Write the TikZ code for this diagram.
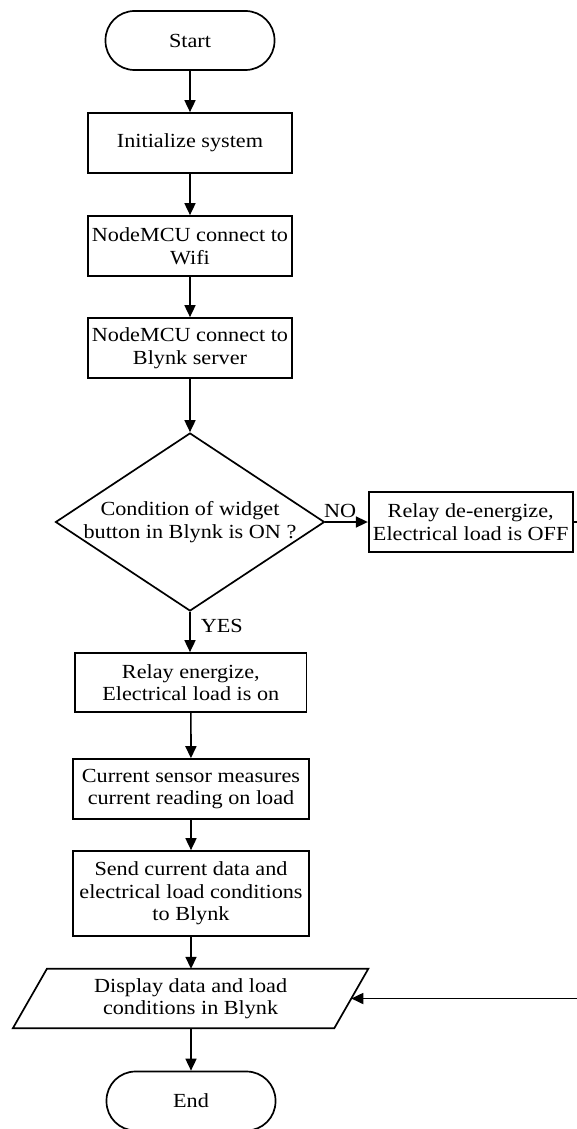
\documentclass[tikz,border=0pt]{standalone}
\usepackage{fontspec}
\setmainfont{Liberation Serif}[FakeStretch=1.11]
\usetikzlibrary{shapes.geometric,arrows.meta}
\begin{document}
\begin{tikzpicture}[x=1pt,y=-1pt,
  every node/.style={font=\fontsize{20}{22.5}\selectfont, align=center, inner sep=0pt},
  term/.style={draw, line width=1.7pt, rounded corners=29pt, minimum width=169pt, minimum height=59pt},
  proc/.style={draw, line width=1.7pt, minimum width=#1, minimum height=60pt},
  proc/.default=204pt,
  decision/.style={draw, line width=1.7pt, diamond, minimum width=269pt, minimum height=178pt},
  io/.style={minimum width=321pt, minimum height=59pt},
  arr/.style={line width=1.7pt, -{Triangle[length=12pt,width=11pt]}},
  lbl/.style={font=\fontsize{20}{22.5}\selectfont}]
\useasboundingbox (0,0) rectangle (577,1129);
\node[term] (start) at (190,40.5) {Start};
\node[proc] (init) at (190,143) {Initialize system};
\node[proc] (wifi) at (190,246) {NodeMCU connect to\\Wifi};
\node[proc] (server) at (190,348) {NodeMCU connect to\\Blynk server};
\node[decision] (dec) at (190,522) {};
\node (dectext) at (dec.center) {Condition of widget\\button in Blynk is ON ?};
\node[proc] (off) at (470.7,522) {Relay de-energize,\\Electrical load is OFF};
\node[proc=231.5pt, minimum height=59pt] (on) at (190.8,682.5) {Relay energize,\\Electrical load is on};
\node[proc=236pt] (sense) at (191,789) {Current sensor measures\\current reading on load};
\node[proc=236pt, minimum height=85pt] (send) at (191,893.5) {Send current data and\\electrical load conditions\\to Blynk};
\node[io] (disp) at (190.6,998.5) {Display data and load\\conditions in Blynk};
\draw[line width=1.7pt] ([xshift=-17pt]disp.south west) -- ([xshift=17pt]disp.north west)
  -- ([xshift=17pt]disp.north east) -- ([xshift=-17pt]disp.south east) -- cycle;
\node[term] (end) at (191,1101) {End};
\coordinate (cr) at (600,522);
\draw[arr] (start) -- (init);
\draw[arr] (init) -- (wifi);
\draw[arr] (wifi) -- (server);
\draw[arr] (server) -- (dec.north);
\draw[arr] (dec.east) -- node[lbl, above, pos=0.35, yshift=3pt] (no) {NO} (off.west);
\draw[arr] (dec.south) -- node[lbl, right, pos=0.35, xshift=10pt] (yes) {YES} (on.north -| dec.south);
\draw[arr] (on) -- (sense);
\draw[arr] (sense) -- (send);
\draw[arr] (send) -- (disp.north -| send.south);
\draw[arr] (off.east) -- (cr) |- (disp.east);
\draw[arr] (disp.south -| end.north) -- (end);
\end{tikzpicture}
\end{document}
